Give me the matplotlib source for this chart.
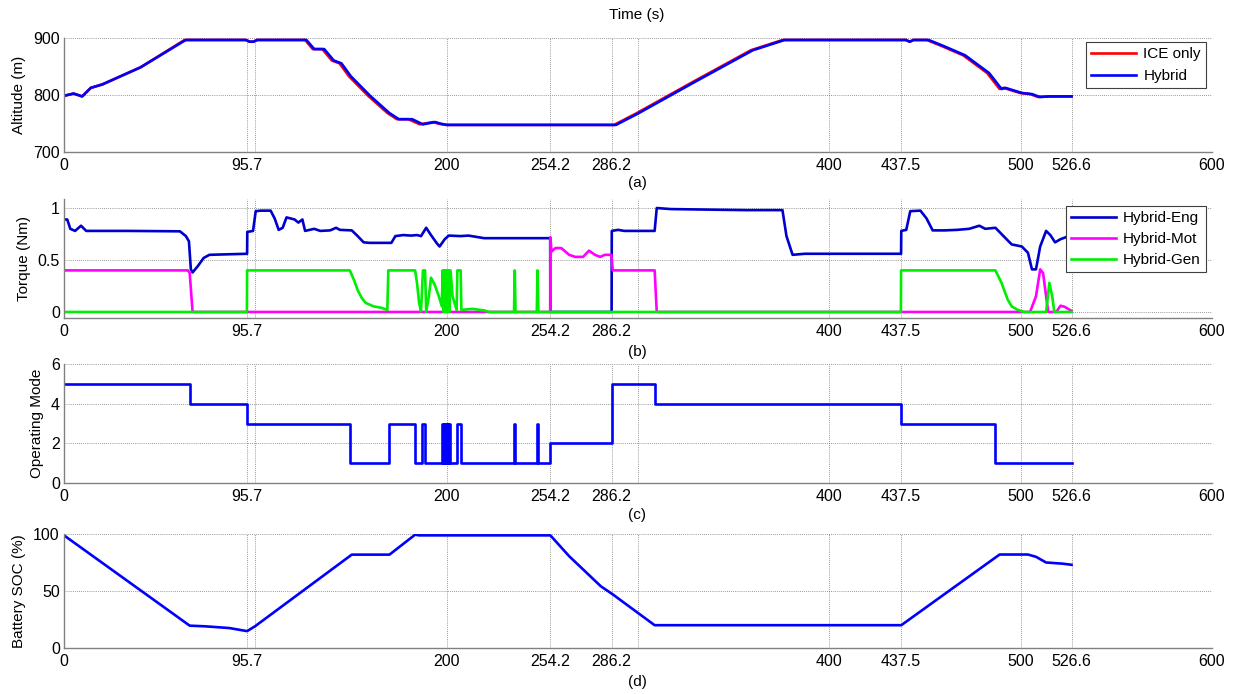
import numpy as np
import matplotlib
matplotlib.use('Agg')
import matplotlib.pyplot as plt

plt.rcParams['font.family'] = ['Liberation Sans', 'DejaVu Sans']
plt.rcParams['font.size'] = 11

# ---- data ----
# (a) altitude
t_alt_hyb = [0, 5, 9.5, 14, 20, 40, 63.6, 95, 97, 99, 101, 126.7, 130.8, 136, 141, 145, 150, 160,
             170, 175, 182, 187.5, 194, 197, 200, 288.5, 300, 330, 360, 376.6, 440, 442, 444,
             451.9, 460, 471, 483.5, 490, 492, 500.7, 506, 510, 515, 526.6]
alt_hyb = [798, 802, 797, 812, 818, 848, 896, 896, 893, 893, 896, 896, 880, 880, 860, 855, 832, 798,
           768, 757, 757, 748, 752, 749, 747, 747, 767, 823, 878, 896, 896, 893, 896,
           896, 885, 869, 838, 810, 812, 803, 801, 796, 797, 797]
t_alt_ice = [0, 5, 9.5, 14, 20, 40, 63, 95, 97, 99, 101, 126, 130, 135, 140, 144, 149, 159,
             169, 174, 180, 186, 193, 196, 200, 287.5, 299, 329, 359, 375.6, 440, 442, 444,
             451, 459, 470, 482.5, 489, 491, 499.7, 505, 509, 515, 526.6]
alt_ice = [798, 802, 797, 812, 818, 848, 896, 896, 893, 893, 896, 896, 880, 880, 860, 855, 832, 798,
           768, 757, 757, 748, 752, 749, 747, 747, 767, 823, 878, 896, 896, 893, 896,
           896, 885, 869, 838, 810, 812, 803, 801, 796, 797, 797]

# (b) torque
t_eng = [0, 1.7, 3.3, 5.8, 8.9, 11.6, 32.7, 60.6, 63.7, 65.3, 66.3, 67.2, 69.9, 73, 76, 95.7, 95.8,
         98.8, 100.2, 102.9, 108, 110.1, 112.2, 114.3, 116.3, 120.5, 122.5, 124.6, 126, 130.8, 133.9,
         139.1, 142.2, 144.2, 150.4, 153.5, 156.6, 159.7, 171.1, 173.2, 177.3, 181.4, 184.5, 186.6,
         189.3, 191.8, 194.9, 196.3, 199, 201.1, 207.3, 211.4, 219.6, 254.1, 254.2, 286.2, 286.3,
         289.6, 292.8, 308.7, 309.8, 317.2, 336.3, 356.4, 375.5, 377.6, 380.8, 387.2, 437.5, 437.6,
         440.2, 442.3, 447.6, 450.8, 454, 460.3, 466.7, 473.1, 478.4, 481.5, 486.8, 492.1, 495.3,
         500.6, 503.8, 505.9, 508, 510.2, 513.3, 515.5, 518, 520.8, 526.6]
eng = [0.89, 0.89, 0.80, 0.78, 0.83, 0.78, 0.78, 0.776, 0.73, 0.68, 0.41, 0.38, 0.44, 0.52, 0.55, 0.56, 0.77,
       0.78, 0.97, 0.975, 0.975, 0.90, 0.79, 0.81, 0.91, 0.89, 0.86, 0.89, 0.78, 0.80, 0.78,
       0.785, 0.81, 0.79, 0.785, 0.73, 0.67, 0.665, 0.665, 0.73, 0.74, 0.735, 0.74, 0.73,
       0.81, 0.74, 0.66, 0.63, 0.70, 0.735, 0.73, 0.735, 0.71, 0.71, 0.0, 0.0, 0.78,
       0.79, 0.78, 0.78, 1.0, 0.99, 0.985, 0.98, 0.98, 0.73, 0.55, 0.56, 0.56, 0.78,
       0.79, 0.97, 0.975, 0.90, 0.785, 0.785, 0.79, 0.80, 0.83, 0.80, 0.81, 0.71, 0.65,
       0.63, 0.57, 0.41, 0.41, 0.63, 0.78, 0.74, 0.67, 0.70, 0.74]

t_mot = [0, 64.7, 65.7, 67.2, 254.1, 254.2, 254.8, 256.8, 259.9, 264, 267.2, 271.3, 274.4, 277.5,
         280.2, 282.7, 286.1, 286.8, 308.7, 309.8, 504.9, 508, 510.2, 511.7, 513.3, 514.4, 518.6,
         520.8, 522.9, 526.6]
mot = [0.40, 0.40, 0.375, 0.0, 0.0, 0.72, 0.58, 0.615, 0.615, 0.55, 0.53, 0.53, 0.59, 0.55,
       0.53, 0.55, 0.55, 0.40, 0.40, 0.0, 0.0, 0.15, 0.41, 0.375, 0.15, 0.0, 0.0,
       0.06, 0.05, 0.01]

t_gen = [0, 95.6, 95.7, 149.4, 151.5, 153.5, 155.6, 157.7, 161.8, 165.9, 169, 169.5, 183.5, 184.5,
         185.6, 186.6, 187.6, 188.7, 189.3, 190.7, 191.8, 193.8, 195.9, 197.5, 197.9, 198.3, 198.7,
         199.1, 199.5, 199.9, 200.3, 200.7, 201.1, 201.5, 202, 203.1, 205.2, 205.6, 207.3, 207.7,
         213.4, 219.6, 222, 235.2, 235.6, 236.0, 247.1, 247.5, 247.9, 437.4, 437.5, 486.8, 490,
         493.2, 495.3, 498.5, 501.7, 513.3, 515, 516.5, 517.6, 526.6]
gen = [0.0, 0.0, 0.40, 0.40, 0.31, 0.21, 0.135, 0.087, 0.054, 0.04, 0.02, 0.40, 0.40, 0.28,
       0.087, 0.006, 0.40, 0.40, 0.0, 0.15, 0.33, 0.26, 0.15, 0.054, 0.40, 0.0, 0.40,
       0.0, 0.40, 0.0, 0.40, 0.0, 0.40, 0.0, 0.40, 0.15, 0.02, 0.40, 0.40, 0.02,
       0.03, 0.015, 0.0, 0.0, 0.40, 0.0, 0.0, 0.40, 0.0, 0.0, 0.40, 0.40, 0.28,
       0.12, 0.054, 0.02, 0.0, 0.0, 0.28, 0.15, 0.0, 0.0]

# (c) operating mode (step changes)
t_mode = [0, 65.7, 95.7, 149.4, 169.7, 183.5, 187.2, 188.7, 197.5, 198.0, 198.4, 198.9, 199.3,
          199.8, 200.2, 200.7, 201.1, 201.6, 202.0, 205.6, 207.7, 235.4, 235.8, 247.3, 247.7,
          254.2, 286.2, 308.7, 437.5, 486.8, 526.6]
mode = [5, 4, 3, 1, 3, 1, 3, 1, 3, 1, 3, 1, 3,
        1, 3, 1, 3, 1, 1, 3, 1, 3, 1, 3, 1,
        2, 5, 4, 3, 1, 1]

# (d) battery SOC
t_soc = [0, 65.7, 74, 86.4, 95.7, 99.8, 150.4, 170.1, 183.5, 185.6, 254.2, 264.1, 280.6, 286.5,
         308.7, 437.6, 489, 503.8, 508, 513.3, 521.8, 526.6]
soc = [98.8, 19.6, 19, 17.5, 14.8, 19, 81.9, 81.9, 99.4, 98.8, 98.8, 80.4, 54.1, 47.4,
       20, 20, 82, 82, 80, 75, 74, 73]

x_ticks = [0, 95.7, 100, 200, 254.2, 286.2, 300, 400, 437.5, 500, 526.6, 600]
x_labels = ['0', '95.7', '', '200', '254.2', '286.2', '', '400', '437.5', '500', '526.6', '600']

fig = plt.figure(figsize=(12.36, 6.94), dpi=100)
W, H = 1236.0, 694.0
left, width = 64 / W, 1148 / W
boxes = [(37.7, 151.7), (199, 318), (364, 483), (534, 648)]
axes = []
for top, bot in boxes:
    ax = fig.add_axes([left, 1 - bot / H, width, (bot - top) / H])
    axes.append(ax)


def style(ax):
    ax.set_xlim(0, 600)
    ax.set_xticks(x_ticks)
    ax.set_xticklabels(x_labels)
    ax.grid(True, linestyle=(0, (1, 1.5)), color='#777777', linewidth=0.6)
    for s in ['top', 'right']:
        ax.spines[s].set_visible(False)
    for s in ['left', 'bottom']:
        ax.spines[s].set_color('#808080')
        ax.spines[s].set_linewidth(1.0)
    ax.tick_params(length=0, labelsize=11.5)
    ax.tick_params(axis='x', pad=4.5)
    ax.tick_params(axis='y', pad=3)


lw = 1.9

ax = axes[0]
ax.plot(t_alt_ice, alt_ice, color='red', lw=lw, label='ICE only')
ax.plot(t_alt_hyb, alt_hyb, color='blue', lw=lw, label='Hybrid')
ax.set_ylim(700, 900)
ax.set_yticks([700, 800, 900])
ax.set_ylabel('Altitude (m)', labelpad=5)
style(ax)
leg = ax.legend(loc='upper right', bbox_to_anchor=(0.995, 0.962), fancybox=False,
                edgecolor='#404040', framealpha=1, handlelength=2.9, borderpad=0.35,
                labelspacing=0.5, handletextpad=0.5, borderaxespad=0, fontsize=11)
leg.get_frame().set_linewidth(0.8)

ax = axes[1]
ax.plot(t_eng, eng, color='#0000cc', lw=lw, label='Hybrid-Eng')
ax.plot(t_mot, mot, color='magenta', lw=lw, label='Hybrid-Mot')
ax.plot(t_gen, gen, color='#00ee00', lw=lw, label='Hybrid-Gen')
ax.set_ylim(-0.058, 1.087)
ax.set_yticks([0, 0.5, 1])
ax.set_yticklabels(['0', '0.5', '1'])
ax.set_ylabel('Torque (Nm)', labelpad=5)
style(ax)
leg = ax.legend(loc='upper right', bbox_to_anchor=(0.995, 0.941), fancybox=False,
                edgecolor='#404040', framealpha=1, handlelength=2.9, borderpad=0.35,
                labelspacing=0.45, handletextpad=0.5, borderaxespad=0, fontsize=11)
leg.get_frame().set_linewidth(0.8)

ax = axes[2]
ax.step(t_mode, mode, where='post', color='blue', lw=lw)
ax.set_ylim(0, 6)
ax.set_yticks([0, 2, 4, 6])
ax.set_ylabel('Operating Mode', labelpad=5)
style(ax)

ax = axes[3]
ax.plot(t_soc, soc, color='blue', lw=lw)
ax.set_ylim(0, 100)
ax.set_yticks([0, 50, 100])
ax.set_ylabel('Battery SOC (%)', labelpad=5)
style(ax)

fig.text(637 / W, 1 - 15 / H, 'Time (s)', ha='center', va='center', fontsize=11)
for lab, y in zip(['(a)', '(b)', '(c)', '(d)'], [183, 352, 515, 682]):
    fig.text(637 / W, 1 - y / H, lab, ha='center', va='center', fontsize=11)

fig.savefig('out.png', dpi=100)
